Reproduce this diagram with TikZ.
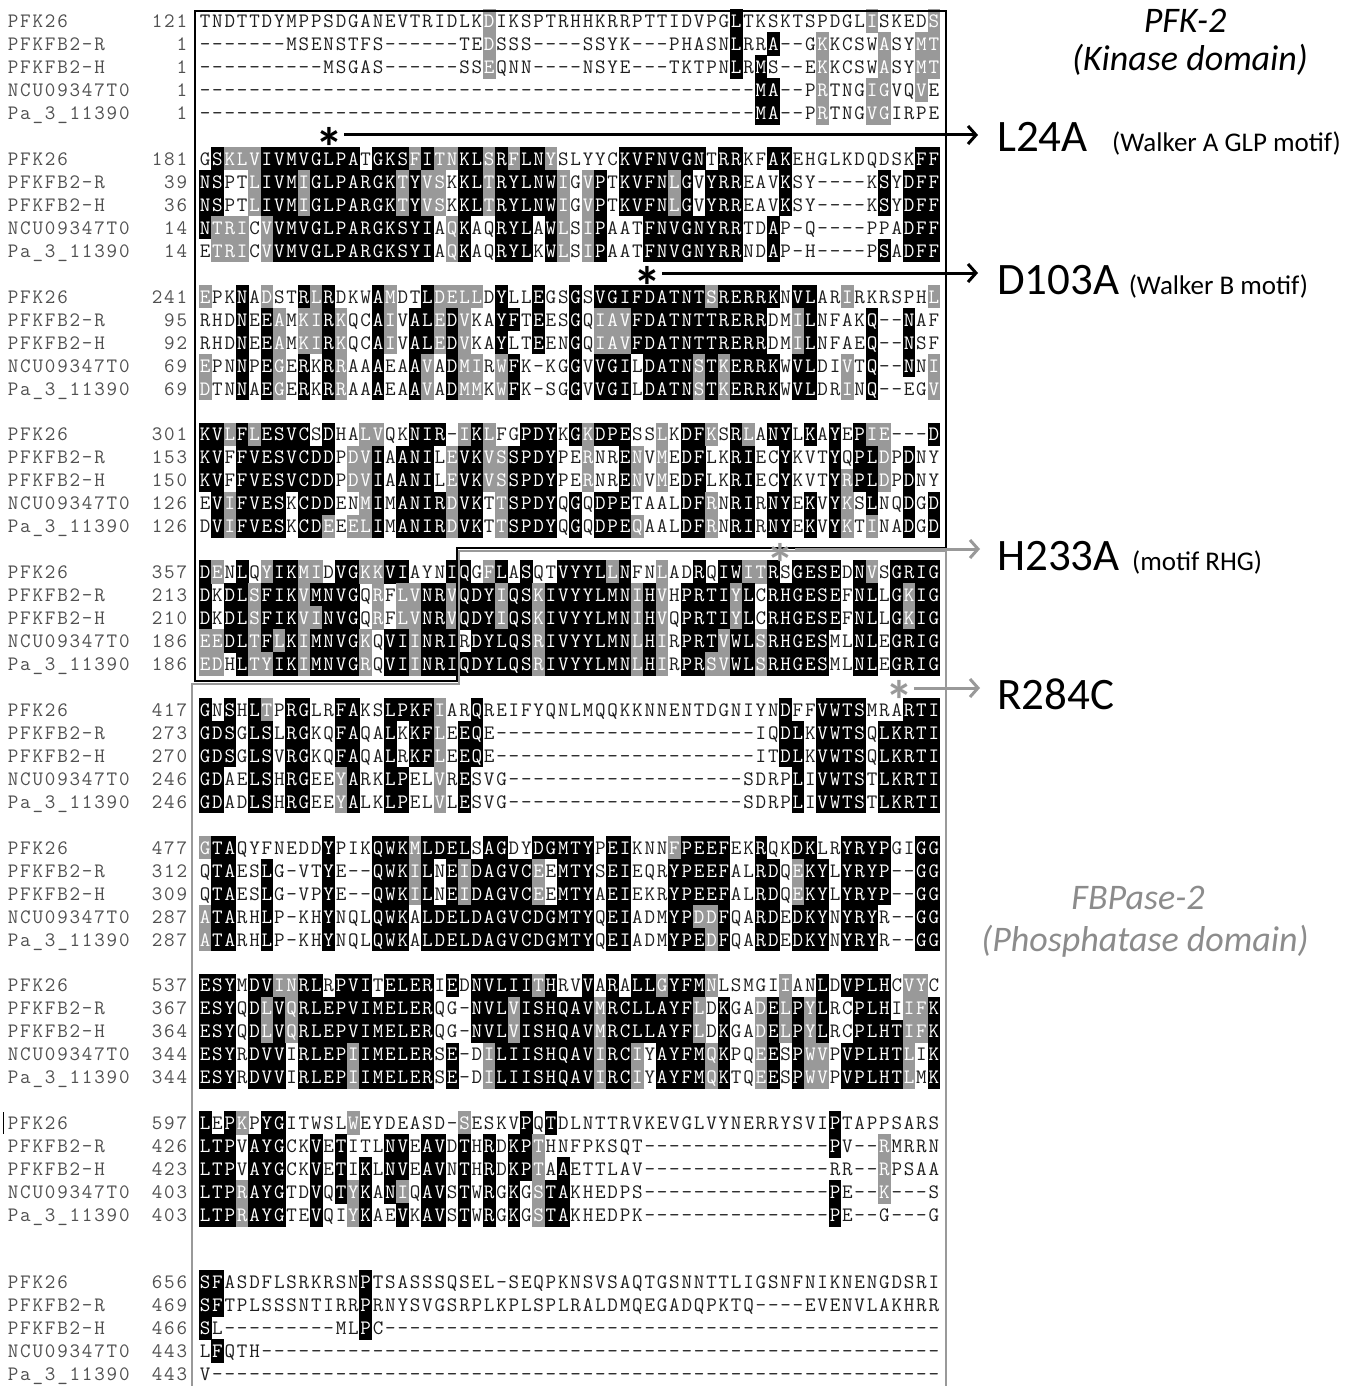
\documentclass[tikz,border=0pt]{standalone}
\usepackage{fontspec}
\setmainfont{Carlito}
\usetikzlibrary{positioning,arrows.meta}

\definecolor{simgray}{RGB}{153,153,153}
\definecolor{restext}{RGB}{30,30,30}
\definecolor{nametext}{RGB}{80,80,80}
\definecolor{phosgray}{RGB}{140,140,140}

\newcommand{\seqfont}{\ttfamily\fontsize{20.5}{20.5}\selectfont}

\tikzstyle{res} = [inner sep=0pt, anchor=base, font=\seqfont]
\tikzstyle{seqname} = [res, text=nametext]
\tikzstyle{hitstar} = [inner sep=0pt, font=\fontsize{56}{56}\selectfont\bfseries]
\tikzstyle{mutation} = [inner sep=0pt, anchor=base west, font=\fontsize{45}{45}\selectfont]
\tikzstyle{motif} = [inner sep=0pt, font=\fontsize{27}{27}\selectfont]
\tikzstyle{domainlabel} = [inner sep=0pt, anchor=base, font=\fontsize{36}{36}\selectfont\itshape]
\tikzstyle{pointer} = [line width=3pt, -{Straight Barb[length=8pt,width=18pt]}, shorten >=19pt]
\tikzstyle{kinasebox} = [line width=1.5pt, black]
\tikzstyle{phosbox} = [line width=2pt, simgray]

% one block of the alignment: 3 of 5 identical -> black, 3 of 5 similar -> gray
\ExplSyntaxOn
\seq_new:N \l_aln_rows_seq
\seq_new:N \l_aln_nums_seq
\seq_new:N \l_aln_names_seq
\seq_set_from_clist:Nn \l_aln_names_seq { PFK26 , PFKFB2-R , PFKFB2-H , NCU09347T0 , Pa_3_11390 }
\tl_new:N \l_aln_c_tl
\tl_new:N \l_aln_d_tl
\tl_new:N \l_aln_x_tl
\tl_new:N \l_aln_y_tl
\tl_new:N \l_aln_px_tl
\tl_new:N \l_aln_py_tl
\tl_new:N \l_aln_s_tl
\tl_new:N \l_aln_j_tl
\tl_new:N \l_aln_r_tl
\tl_new:N \l_aln_k_tl
\tl_new:N \l_aln_fill_tl
\tl_new:N \l_aln_text_tl
\int_new:N \l_aln_id_int
\int_new:N \l_aln_gc_int
\int_new:N \l_aln_cg_int
\int_new:N \g_aln_node_int

\cs_generate_variant:Nn \str_item:nn { e }
\cs_new:Npn \aln_char:nn #1#2
  { \str_item:en { \seq_item:Nn \l_aln_rows_seq {#1} } {#2} }

\cs_new:Npn \aln_grp:n #1
  {
    \str_case:nnF {#1}
      {
        {F}{1} {Y}{1} {W}{1}
        {I}{2} {L}{2} {V}{2} {M}{2}
        {K}{3} {R}{3}
        {D}{4} {E}{4}
        {N}{5} {Q}{5}
        {S}{6} {T}{6}
        {G}{7} {A}{7}
      }
      { 0 }
  }
\cs_generate_variant:Nn \aln_grp:n { V }

\cs_new_protected:Npn \aln_put:nnnn #1#2#3#4
  {
    \tl_set:Ne \l_aln_s_tl {#3}
    \tl_set:Ne \l_aln_px_tl { \fp_eval:n {#1} }
    \tl_set:Ne \l_aln_py_tl { \fp_eval:n { #2 + 6.5 } }
    \int_step_variable:nNn { \str_count:N \l_aln_s_tl } \l_aln_k_tl
      {
        \int_gincr:N \g_aln_node_int
        \tl_set:Ne \l_aln_x_tl { \fp_eval:n { \l_aln_px_tl + ( \l_aln_k_tl - 0.5 ) * 12.35 } }
        \node [#4] ( #4 - \int_use:N \g_aln_node_int )
          at ( \l_aln_x_tl , \l_aln_py_tl )
          { \str_item:Nn \l_aln_s_tl { \l_aln_k_tl } } ;
      }
  }

\cs_new_protected:Npn \aln_block:nnnn #1#2#3#4
  {
    \seq_set_from_clist:Nn \l_aln_rows_seq {#4}
    \seq_set_from_clist:Nn \l_aln_nums_seq {#3}
    \int_step_inline:nn { 5 }
      {
        \aln_put:nnnn { 7 } { #2 + ( ##1 - 1 ) * 23 }
          { \seq_item:Nn \l_aln_names_seq {##1} } { seqname }
        \aln_put:nnnn { 188 - \str_count:N \l_aln_s_tl * 12.35 } { #2 + ( ##1 - 1 ) * 23 }
          { \seq_item:Nn \l_aln_nums_seq {##1} } { seqname }
      }
    \int_step_variable:nNn { 60 } \l_aln_j_tl
      {
        \int_step_variable:nNn { 5 } \l_aln_r_tl
          {
            \tl_set:Ne \l_aln_c_tl { \aln_char:nn { \l_aln_r_tl } { \l_aln_j_tl } }
            \int_set:Nn \l_aln_cg_int { \aln_grp:V \l_aln_c_tl }
            \int_zero:N \l_aln_id_int
            \int_zero:N \l_aln_gc_int
            \int_step_inline:nn { 5 }
              {
                \tl_set:Ne \l_aln_d_tl { \aln_char:nn { ##1 } { \l_aln_j_tl } }
                \str_if_eq:VVT \l_aln_c_tl \l_aln_d_tl
                  { \int_incr:N \l_aln_id_int }
                \int_compare:nNnT { \l_aln_cg_int } > { 0 }
                  {
                    \int_compare:nNnT { \aln_grp:V \l_aln_d_tl } = { \l_aln_cg_int }
                      { \int_incr:N \l_aln_gc_int }
                  }
              }
            \tl_set:Nn \l_aln_fill_tl { none }
            \str_if_eq:VnF \l_aln_c_tl { - }
              {
                \int_compare:nNnTF { \l_aln_id_int } > { 2 }
                  { \tl_set:Nn \l_aln_fill_tl { black } }
                  {
                    \int_compare:nNnT { \l_aln_gc_int } > { 2 }
                      { \tl_set:Nn \l_aln_fill_tl { simgray } }
                  }
              }
            \tl_set:Ne \l_aln_x_tl { \fp_eval:n { 199 + ( \l_aln_j_tl - 1 ) * 12.35 } }
            \tl_set:Ne \l_aln_y_tl { \fp_eval:n { #2 + ( \l_aln_r_tl - 1 ) * 23 } }
            \str_if_eq:VnTF \l_aln_fill_tl { none }
              { \tl_set:Nn \l_aln_text_tl { restext } }
              {
                \tl_set:Nn \l_aln_text_tl { white }
                \fill [ fill = \l_aln_fill_tl ]
                  ( \l_aln_x_tl - 0.15 , \l_aln_y_tl - 11.65 ) rectangle + ( 12.65 , 23.3 ) ;
              }
            \node [ res , text = \l_aln_text_tl ] ( s - #1 - \l_aln_r_tl - \l_aln_j_tl )
              at ( \l_aln_x_tl + 6.175 , \l_aln_y_tl + 6.5 ) { \l_aln_c_tl } ;
          }
      }
  }
\newcommand{\alnblock}[4]{ \aln_block:nnnn {#1} {#2} {#3} {#4} }
\ExplSyntaxOff

\begin{document}
\begin{tikzpicture}[x=1pt, y=-1pt]
\useasboundingbox (0,0) rectangle (1353,1386);

% alignment
\alnblock{1}{21}{121,1,1,1,1}{
TNDTTDYMPPSDGANEVTRIDLKDIKSPTRHHKRRPTTIDVPGLTKSKTSPDGLISKEDS,
-------MSENSTFS------TEDSSS----SSYK---PHASNLRRA--GKKCSWASYMT,
----------MSGAS------SSEQNN----NSYE---TKTPNLRMS--EKKCSWASYMT,
---------------------------------------------MA--PRTNGIGVQVE,
---------------------------------------------MA--PRTNGVGIRPE}
\alnblock{2}{158.75}{181,39,36,14,14}{
GSKLVIVMVGLPATGKSFITNKLSRFLNYSLYYCKVFNVGNTRRKFAKEHGLKDQDSKFF,
NSPTLIVMIGLPARGKTYVSKKLTRYLNWIGVPTKVFNLGVYRREAVKSY----KSYDFF,
NSPTLIVMIGLPARGKTYVSKKLTRYLNWIGVPTKVFNLGVYRREAVKSY----KSYDFF,
NTRICVVMVGLPARGKSYIAQKAQRYLAWLSIPAATFNVGNYRRTDAP-Q----PPADFF,
ETRICVVMVGLPARGKSYIAQKAQRYLKWLSIPAATFNVGNYRRNDAP-H----PSADFF}
\alnblock{3}{296.5}{241,95,92,69,69}{
EPKNADSTRLRDKWAMDTLDELLDYLLEGSGSVGIFDATNTSRERRKNVLARIRKRSPHL,
RHDNEEAMKIRKQCAIVALEDVKAYFTEESGQIAVFDATNTTRERRDMILNFAKQ--NAF,
RHDNEEAMKIRKQCAIVALEDVKAYLTEENGQIAVFDATNTTRERRDMILNFAEQ--NSF,
EPNNPEGERKRRAAAEAAVADMIRWFK-KGGVVGILDATNSTKERRKWVLDIVTQ--NNI,
DTNNAEGERKRRAAAEAAVADMMKWFK-SGGVVGILDATNSTKERRKWVLDRINQ--EGV}
\alnblock{4}{434.25}{301,153,150,126,126}{
KVLFLESVCSDHALVQKNIR-IKLFGPDYKGKDPESSLKDFKSRLANYLKAYEPIE---D,
KVFFVESVCDDPDVIAANILEVKVSSPDYPERNRENVMEDFLKRIECYKVTYQPLDPDNY,
KVFFVESVCDDPDVIAANILEVKVSSPDYPERNRENVMEDFLKRIECYKVTYRPLDPDNY,
EVIFVESKCDDENMIMANIRDVKTTSPDYQGQDPETAALDFRNRIRNYEKVYKSLNQDGD,
DVIFVESKCDEEELIMANIRDVKTTSPDYQGQDPEQAALDFRNRIRNYEKVYKTINADGD}
\alnblock{5}{572}{357,213,210,186,186}{
DENLQYIKMIDVGKKVIAYNIQGFLASQTVYYLLNFNLADRQIWITRSGESEDNVSGRIG,
DKDLSFIKVMNVGQRFLVNRVQDYIQSKIVYYLMNIHVHPRTIYLCRHGESEFNLLGKIG,
DKDLSFIKVINVGQRFLVNRVQDYIQSKIVYYLMNIHVQPRTIYLCRHGESEFNLLGKIG,
EEDLTFLKIMNVGKQVIINRIRDYLQSRIVYYLMNLHIRPRTVWLSRHGESMLNLEGRIG,
EDHLTYIKIMNVGRQVIINRIQDYLQSRIVYYLMNLHIRPRSVWLSRHGESMLNLEGRIG}
\alnblock{6}{709.75}{417,273,270,246,246}{
GNSHLTPRGLRFAKSLPKFIARQREIFYQNLMQQKKNNENTDGNIYNDFFVWTSMRARTI,
GDSGLSLRGKQFAQALKKFLEEQE---------------------IQDLKVWTSQLKRTI,
GDSGLSVRGKQFAQALRKFLEEQE---------------------ITDLKVWTSQLKRTI,
GDAELSHRGEEYARKLPELVRESVG-------------------SDRPLIVWTSTLKRTI,
GDADLSHRGEEYALKLPELVLESVG-------------------SDRPLIVWTSTLKRTI}
\alnblock{7}{847.5}{477,312,309,287,287}{
GTAQYFNEDDYPIKQWKMLDELSAGDYDGMTYPEIKNNFPEEFEKRQKDKLRYRYPGIGG,
QTAESLG-VTYE--QWKILNEIDAGVCEEMTYSEIEQRYPEEFALRDQEKYLYRYP--GG,
QTAESLG-VPYE--QWKILNEIDAGVCEEMTYAEIEKRYPEEFALRDQEKYLYRYP--GG,
ATARHLP-KHYNQLQWKALDELDAGVCDGMTYQEIADMYPDDFQARDEDKYNYRYR--GG,
ATARHLP-KHYNQLQWKALDELDAGVCDGMTYQEIADMYPEDFQARDEDKYNYRYR--GG}
\alnblock{8}{985.25}{537,367,364,344,344}{
ESYMDVINRLRPVITELERIEDNVLIITHRVVARALLGYFMNLSMGIIANLDVPLHCVYC,
ESYQDLVQRLEPVIMELERQG-NVLVISHQAVMRCLLAYFLDKGADELPYLRCPLHIIFK,
ESYQDLVQRLEPVIMELERQG-NVLVISHQAVMRCLLAYFLDKGADELPYLRCPLHTIFK,
ESYRDVVIRLEPIIMELERSE-DILIISHQAVIRCIYAYFMQKPQEESPWVPVPLHTLIK,
ESYRDVVIRLEPIIMELERSE-DILIISHQAVIRCIYAYFMQKTQEESPWVPVPLHTLMK}
\alnblock{9}{1123}{597,426,423,403,403}{
LEPKPYGITWSLWEYDEASD-SESKVPQTDLNTTRVKEVGLVYNERRYSVIPTAPPSARS,
LTPVAYGCKVETITLNVEAVDTHRDKPTHNFPKSQT---------------PV--RMRRN,
LTPVAYGCKVETIKLNVEAVNTHRDKPTAAETTLAV---------------RR--RPSAA,
LTPRAYGTDVQTYKANIQAVSTWRGKGSTAKHEDPS---------------PE--K---S,
LTPRAYGTEVQIYKAEVKAVSTWRGKGSTAKHEDPK---------------PE--G---G}
\alnblock{10}{1282}{656,469,466,443,443}{
SFASDFLSRKRSNPTSASSSQSEL-SEQPKNSVSAQTGSNNTTLIGSNFNIKNENGDSRI,
SFTPLSSSNTIRRPRNYSVGSRPLKPLSPLRALDMQEGADQPKTQ----EVENVLAKHRR,
SL---------MLPC---------------------------------------------,
LFQTH-------------------------------------------------------,
V-----------------------------------------------------------}
\draw[line width=1pt] (3,1112) -- (3,1134);

% domain boxes
\draw[kinasebox] (195,11) -- (946,11) -- (946,548) -- (457,548) -- (457,681) -- (195,681) -- cycle;
\draw[phosbox] (192,1390) -- (192,684) -- (459,684) -- (459,551) -- (946,551) -- (946,1390);

% domain titles
\node[domainlabel] (kin1) at (1185,33) {PFK-2};
\node[domainlabel] (kin2) at (1190,71) {(Kinase domain)};
\node[domainlabel, text=phosgray] (phos1) at (1138,909) {FBPase-2};
\node[domainlabel, text=phosgray] (phos2) at (1145,951) {(Phosphatase domain)};

% mutated residues
\node[mutation] (mutL) at (997,151) {L24A};
\node[motif, base right=24pt of mutL] (motL) {(Walker A GLP motif)};
\node[mutation] (mutD) at (997,294) {D103A};
\node[motif, base right=9pt of mutD] (motD) {(Walker B motif)};
\node[mutation] (mutH) at (997,570) {H233A};
\node[motif, base right=12pt of mutH] (motH) {(motif RHG)};
\node[mutation] (mutR) at (997,709) {R284C};

\node[hitstar] (starL) at (329,147) {*};
\node[hitstar] (starD) at (647,286) {*};
\node[hitstar, text=simgray] (starH) at (780,563) {*};
\node[hitstar, text=simgray] (starR) at (899,700) {*};
\coordinate (tailL) at (344,135);
\coordinate (tailD) at (662,273);
\coordinate (tailH) at (795,549);
\coordinate (tailR) at (914,688);
\draw[pointer] (tailL) -- (tailL -| mutL.west);
\draw[pointer] (tailD) -- (tailD -| mutD.west);
\draw[pointer, simgray, shorten >=17pt] (tailH) -- (tailH -| mutH.west);
\draw[pointer, simgray, shorten >=17pt] (tailR) -- (tailR -| mutR.west);
\end{tikzpicture}
\end{document}
